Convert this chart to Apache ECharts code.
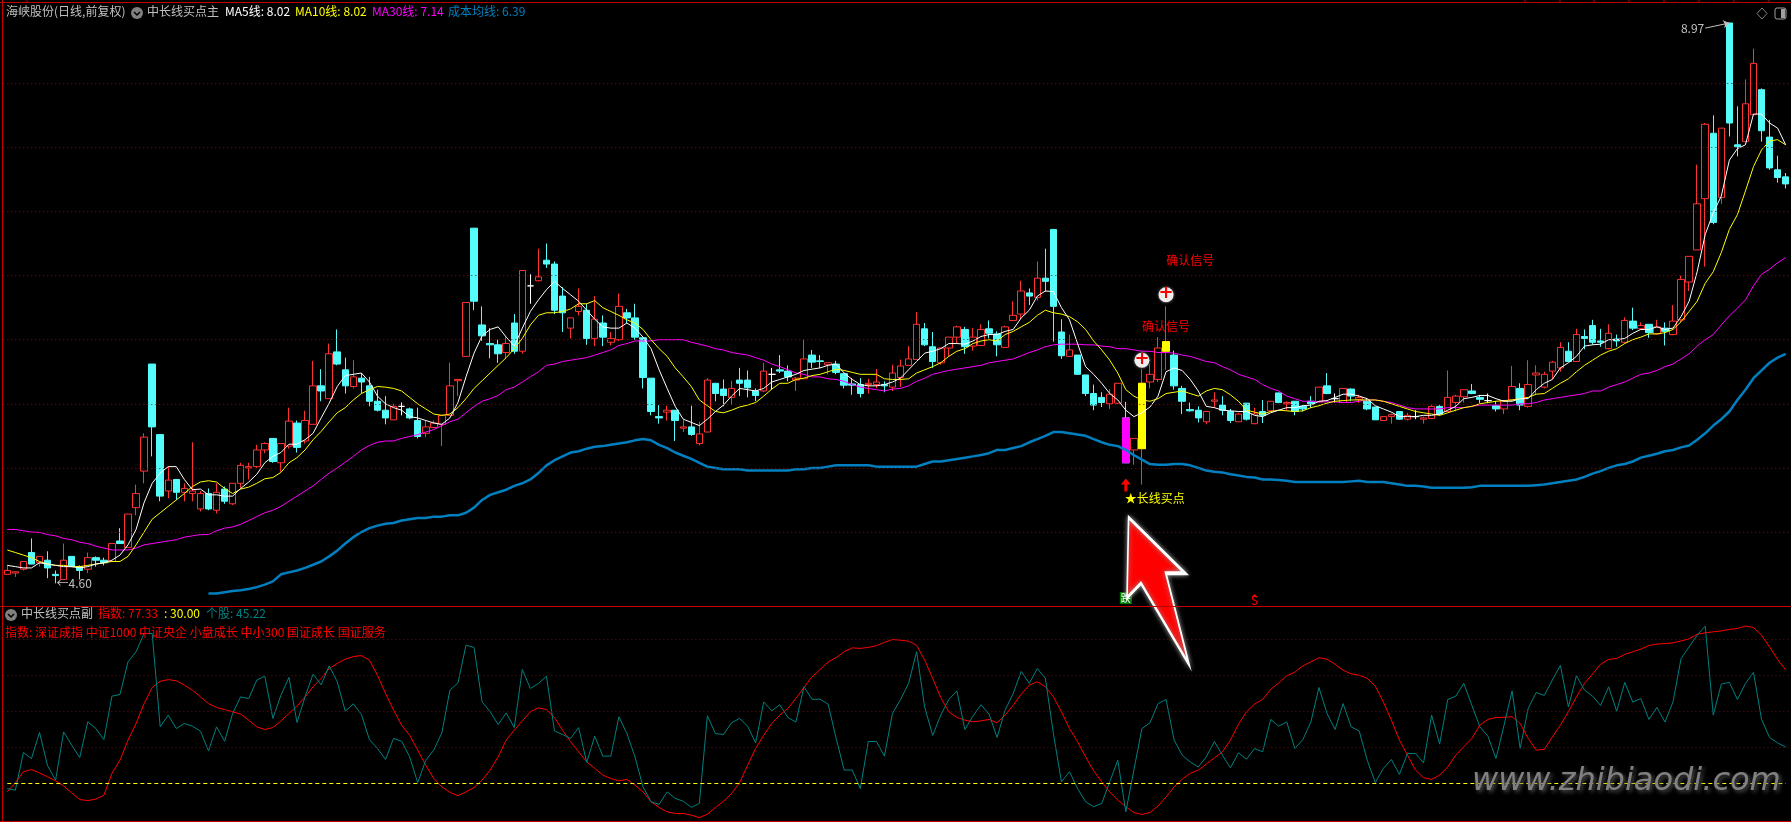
<!DOCTYPE html>
<html>
<head>
<meta charset="utf-8">
<style>
html, body { margin: 0; padding: 0; background: #000; }
#chart { width: 1791px; height: 822px; }
</style>
<script src="https://cdn.jsdelivr.net/npm/echarts@6/dist/echarts.min.js"></script>
</head>
<body>
<div id="chart"></div>
<script>
const opens = [
4.67,4.68,4.71,4.84,4.76,4.78,4.67,4.63,4.81,4.73,
4.71,4.80,4.78,4.77,4.93,4.88,5.19,5.475,6.31,5.76,
5.32,5.41,5.31,5.30,5.18,5.30,5.17,5.335,5.22,5.38,
5.50,5.51,5.64,5.73,5.54,5.67,5.85,5.71,5.84,6.14,
6.04,6.405,6.265,6.135,6.20,6.14,6.02,5.95,5.875,5.98,
5.96,5.87,5.77,5.815,5.84,5.91,6.18,6.37,7.37,6.615,
6.47,6.46,6.40,6.63,6.41,6.92,6.96,7.12,7.09,6.84,
6.59,6.72,6.73,6.51,6.63,6.48,6.50,6.71,6.67,6.515,
6.20,5.90,5.935,5.95,5.81,5.82,5.69,5.78,6.16,6.115,
6.05,6.185,6.185,6.10,6.10,6.23,6.265,6.255,6.185,6.195,
6.38,6.335,6.305,6.31,6.235,6.155,6.15,6.15,6.15,6.15,
6.13,6.205,6.30,6.345,6.585,6.445,6.32,6.435,6.52,6.58,
6.45,6.455,6.585,6.545,6.44,6.65,6.70,6.865,6.83,6.98,
7.36,6.56,6.37,6.38,6.225,6.08,6.05,6.00,6.005,5.89,
5.64,5.65,6.17,6.19,6.41,6.38,6.12,5.955,5.95,5.86,
6.02,5.99,5.94,5.86,6.005,5.845,5.94,5.945,6.085,6.00,
6.02,5.98,6.02,6.015,6.14,6.04,6.01,6.115,6.035,6.02,
5.975,5.87,5.90,5.94,5.88,5.90,5.88,5.885,5.98,5.94,
6.01,6.055,6.10,6.05,6.025,5.985,5.96,6.03,6.12,5.98,
6.225,6.13,6.255,6.28,6.41,6.33,6.525,6.61,6.49,6.43,
6.505,6.48,6.645,6.585,6.62,6.545,6.59,6.54,6.655,6.95,
7.20,7.60,8.11,7.61,8.97,8.02,8.045,8.255,8.45,8.08,7.825,7.77];
const closes = [
4.70,4.69,4.77,4.75,4.81,4.72,4.66,4.78,4.73,4.70,
4.80,4.78,4.76,4.91,4.91,5.14,5.30,5.74,5.82,5.28,
5.405,5.31,5.34,5.32,5.30,5.18,5.31,5.24,5.38,5.52,
5.51,5.64,5.69,5.55,5.69,5.865,5.66,5.87,6.14,6.10,
6.39,6.31,6.14,6.21,6.17,6.02,5.95,5.89,5.98,5.98,
5.89,5.745,5.82,5.85,5.91,6.14,6.19,6.79,6.80,6.53,
6.46,6.39,6.47,6.41,7.04,6.92,6.99,7.09,6.73,6.71,
6.67,6.76,6.51,6.66,6.52,6.51,6.76,6.67,6.52,6.205,
5.94,5.89,5.95,5.87,5.82,5.76,5.765,6.185,6.08,6.065,
6.12,6.16,6.125,6.065,6.255,6.23,6.255,6.21,6.20,6.35,
6.325,6.33,6.32,6.245,6.145,6.145,6.08,6.16,6.17,6.14,
6.24,6.295,6.35,6.62,6.46,6.33,6.435,6.52,6.60,6.445,
6.52,6.58,6.55,6.46,6.60,6.69,6.88,6.84,6.98,6.955,
6.76,6.375,6.42,6.23,6.08,5.99,6.01,6.075,6.16,5.54,
5.73,6.16,6.23,6.435,6.485,6.14,6.02,5.945,5.89,5.94,
6.03,5.95,5.87,5.92,5.88,5.92,5.91,6.02,6.01,6.01,
5.94,5.96,6.00,6.13,6.08,6.04,6.12,6.06,6.05,5.96,
5.875,5.90,5.915,5.88,5.91,5.90,5.89,5.98,5.92,6.05,
6.06,6.11,6.08,6.035,6.025,5.96,6.02,6.135,5.99,6.15,
6.24,6.23,6.325,6.44,6.33,6.54,6.51,6.48,6.48,6.55,
6.49,6.65,6.59,6.61,6.555,6.60,6.565,6.645,6.97,7.15,
7.56,8.18,7.415,8.15,8.19,8.005,8.34,8.655,8.13,7.84,7.765,7.715];
const lows = [
4.67,4.65,4.70,4.75,4.73,4.64,4.60,4.63,4.73,4.63,
4.68,4.73,4.74,4.77,4.91,4.88,5.13,5.38,5.59,5.24,
5.265,5.25,5.24,5.24,5.16,5.17,5.145,5.22,5.21,5.34,
5.41,5.50,5.615,5.54,5.47,5.65,5.62,5.69,5.84,6.02,
6.04,6.30,6.08,6.12,6.08,5.98,5.94,5.84,5.875,5.91,
5.88,5.73,5.74,5.81,5.67,5.91,6.06,6.37,6.73,6.49,
6.355,6.32,6.355,6.39,6.39,6.78,6.955,7.06,6.70,6.56,
6.51,6.69,6.46,6.45,6.45,6.455,6.49,6.63,6.50,6.12,
5.91,5.845,5.87,5.71,5.78,5.75,5.675,5.78,6.02,5.98,
5.99,6.06,6.05,6.02,6.09,6.11,6.24,6.175,6.10,6.195,
6.28,6.28,6.23,6.23,6.12,6.07,6.05,6.08,6.12,6.09,
6.10,6.13,6.30,6.345,6.45,6.28,6.305,6.365,6.47,6.39,
6.415,6.45,6.51,6.37,6.44,6.65,6.66,6.77,6.805,6.875,
6.485,6.35,6.365,6.225,6.06,5.95,5.975,5.96,6.00,5.54,
5.525,5.37,6.12,6.17,6.265,6.11,5.92,5.94,5.855,5.84,
5.97,5.91,5.85,5.86,5.87,5.84,5.85,5.94,6.005,5.95,
5.91,5.94,5.97,6.015,6.075,6.01,6.005,6.02,6.005,5.95,
5.875,5.87,5.845,5.875,5.87,5.88,5.845,5.88,5.91,5.94,
5.94,6.01,6.075,6.005,6.005,5.94,5.92,6.02,5.95,5.97,
6.07,6.12,6.19,6.25,6.33,6.33,6.425,6.46,6.445,6.425,
6.445,6.47,6.575,6.575,6.515,6.54,6.455,6.535,6.64,6.88,
7.20,7.07,7.40,7.56,8.085,7.93,8.045,8.255,8.045,7.825,7.725,7.68];
const highs = [
4.74,4.69,4.77,4.95,4.81,4.85,4.70,4.91,4.81,4.74,
4.84,4.81,4.80,4.91,5.03,5.14,5.37,5.77,6.31,5.76,
5.51,5.41,5.38,5.70,5.32,5.34,5.38,5.355,5.38,5.54,
5.54,5.68,5.70,5.73,5.69,5.97,5.87,5.945,6.335,6.27,
6.47,6.58,6.36,6.34,6.24,6.21,6.11,6.06,6.00,6.01,
5.97,5.97,5.87,5.87,5.91,6.32,6.19,6.79,7.37,6.76,
6.59,6.50,6.52,6.70,7.04,7.01,7.21,7.25,7.11,6.91,
6.67,6.90,6.78,6.84,6.69,6.56,6.86,6.74,6.78,6.515,
6.20,5.99,5.985,5.95,5.875,5.985,5.86,6.20,6.16,6.19,
6.18,6.28,6.26,6.12,6.32,6.28,6.38,6.30,6.21,6.50,
6.42,6.38,6.325,6.335,6.235,6.20,6.20,6.195,6.27,6.175,
6.305,6.345,6.45,6.715,6.63,6.56,6.435,6.52,6.61,6.60,
6.59,6.62,6.65,6.565,6.61,6.80,6.96,6.90,7.11,7.21,
7.36,6.66,6.54,6.38,6.225,6.15,6.09,6.115,6.16,6.015,
5.73,6.27,6.31,6.52,6.76,6.415,6.14,6.01,5.98,5.94,
6.09,6.06,5.96,5.93,6.005,5.97,6.03,6.02,6.085,6.02,
6.02,5.99,6.06,6.13,6.24,6.08,6.12,6.12,6.07,6.045,
5.975,5.90,5.925,5.94,5.93,5.95,5.90,5.99,5.99,6.26,
6.07,6.11,6.155,6.07,6.08,6.02,6.03,6.295,6.16,6.34,
6.30,6.25,6.335,6.48,6.48,6.585,6.58,6.655,6.585,6.62,
6.54,6.675,6.75,6.635,6.62,6.655,6.635,6.77,7.00,7.15,
7.865,8.19,8.25,8.15,8.97,8.32,8.53,8.77,8.46,8.215,7.935,7.80];

const ma5 = [
4.74,4.73,4.72,4.72,4.76,4.75,4.74,4.73,4.73,4.72,
4.73,4.75,4.76,4.78,4.82,4.90,5.02,5.23,5.38,5.46,
5.51,5.51,5.41,5.33,5.335,5.29,5.29,5.28,5.28,5.34,
5.39,5.45,5.54,5.59,5.62,5.685,5.685,5.72,5.77,5.89,
6.005,6.135,6.22,6.23,6.24,6.17,6.06,6.00,5.97,5.95,
5.90,5.89,5.87,5.85,5.84,5.89,6.01,6.21,6.395,6.53,
6.58,6.60,6.52,6.45,6.59,6.72,6.81,6.89,6.955,6.90,
6.85,6.80,6.73,6.66,6.60,6.59,6.59,6.63,6.59,6.52,
6.43,6.265,6.12,5.98,5.88,5.855,5.83,5.88,5.94,5.99,
6.06,6.12,6.11,6.10,6.12,6.17,6.19,6.21,6.23,6.26,
6.27,6.28,6.30,6.31,6.24,6.19,6.15,6.14,6.14,6.15,
6.17,6.20,6.265,6.33,6.395,6.41,6.43,6.47,6.47,6.465,
6.49,6.525,6.54,6.54,6.565,6.58,6.67,6.73,6.84,6.88,
6.875,6.75,6.655,6.47,6.29,6.23,6.16,6.08,6.03,5.95,
5.90,5.93,5.975,6.06,6.25,6.28,6.26,6.19,6.10,5.98,
5.97,5.95,5.945,5.94,5.94,5.91,5.90,5.93,5.95,5.97,
5.97,5.985,5.99,6.02,6.025,6.05,6.075,6.075,6.06,6.04,
5.985,5.96,5.935,5.90,5.90,5.90,5.91,5.91,5.92,5.95,
5.98,6.04,6.05,6.065,6.065,6.04,6.02,6.02,6.04,6.04,
6.11,6.16,6.19,6.28,6.32,6.37,6.45,6.46,6.465,6.50,
6.50,6.51,6.55,6.58,6.58,6.60,6.58,6.59,6.68,6.80,
7.03,7.32,7.49,7.62,7.90,7.99,8.02,8.26,8.26,8.19,8.15,8.02];
const ma10 = [
4.86,4.84,4.82,4.80,4.77,4.75,4.74,4.74,4.73,4.73,
4.74,4.75,4.76,4.77,4.77,4.81,4.90,5.00,5.10,5.15,
5.20,5.25,5.30,5.355,5.39,5.40,5.39,5.34,5.30,5.335,
5.35,5.38,5.415,5.425,5.465,5.54,5.58,5.64,5.72,5.785,
5.86,5.93,5.97,6.03,6.08,6.11,6.135,6.13,6.12,6.10,
6.05,6.00,5.96,5.92,5.91,5.92,5.97,6.04,6.12,6.18,
6.24,6.30,6.36,6.43,6.51,6.615,6.69,6.71,6.71,6.72,
6.74,6.78,6.78,6.805,6.75,6.72,6.69,6.655,6.63,6.58,
6.50,6.43,6.37,6.28,6.21,6.135,6.03,5.985,5.94,5.93,
5.95,5.975,5.99,6.01,6.06,6.115,6.16,6.16,6.19,6.20,
6.22,6.23,6.25,6.27,6.26,6.245,6.23,6.23,6.23,6.195,
6.19,6.19,6.195,6.24,6.265,6.29,6.32,6.37,6.41,6.43,
6.47,6.49,6.50,6.49,6.54,6.565,6.60,6.635,6.69,6.73,
6.71,6.70,6.68,6.64,6.58,6.49,6.42,6.34,6.24,6.11,
6.06,6.03,6.02,6.04,6.08,6.09,6.10,6.08,6.06,6.10,
6.12,6.11,6.07,6.02,5.95,5.935,5.92,5.94,5.95,5.945,
5.94,5.945,5.97,5.985,6.005,6.02,6.025,6.03,6.03,6.03,
6.03,6.02,6.00,5.98,5.96,5.94,5.93,5.92,5.91,5.93,
5.95,5.97,5.98,6.00,6.01,6.02,6.025,6.03,6.04,6.05,
6.075,6.08,6.12,6.16,6.195,6.25,6.30,6.34,6.38,6.41,
6.43,6.47,6.50,6.52,6.545,6.545,6.555,6.58,6.64,6.72,
6.80,6.94,7.03,7.18,7.36,7.475,7.66,7.85,7.98,8.05,8.06,8.02];
const ma30 = [
5.02,5.02,5.01,5.00,4.997,4.98,4.97,4.95,4.94,4.92,
4.91,4.89,4.875,4.86,4.86,4.86,4.875,4.90,4.91,4.92,
4.93,4.94,4.96,4.97,4.98,4.98,5.01,5.03,5.04,5.06,
5.09,5.12,5.15,5.17,5.20,5.24,5.28,5.32,5.36,5.41,
5.46,5.50,5.545,5.59,5.64,5.675,5.70,5.71,5.71,5.73,
5.745,5.76,5.78,5.80,5.83,5.86,5.88,5.93,5.98,6.02,
6.04,6.065,6.11,6.13,6.17,6.21,6.25,6.30,6.31,6.33,
6.34,6.35,6.36,6.38,6.40,6.42,6.455,6.47,6.49,6.49,
6.49,6.50,6.50,6.50,6.50,6.48,6.465,6.45,6.43,6.42,
6.40,6.39,6.38,6.36,6.34,6.31,6.29,6.265,6.24,6.23,
6.21,6.21,6.195,6.19,6.175,6.15,6.13,6.12,6.11,6.10,
6.115,6.12,6.14,6.175,6.20,6.23,6.245,6.26,6.27,6.28,
6.29,6.30,6.32,6.33,6.34,6.35,6.375,6.40,6.42,6.445,
6.46,6.465,6.465,6.465,6.46,6.46,6.45,6.445,6.43,6.43,
6.42,6.41,6.41,6.40,6.40,6.395,6.38,6.37,6.35,6.33,
6.32,6.29,6.265,6.23,6.21,6.19,6.15,6.12,6.10,6.06,
6.04,6.02,6.02,6.015,6.015,6.015,6.01,6.01,6.02,6.03,
6.03,6.02,6.01,5.99,5.97,5.96,5.96,5.96,5.96,5.97,
5.97,5.97,5.98,5.99,5.99,5.99,5.99,5.99,6.00,6.00,
6.01,6.03,6.04,6.05,6.06,6.07,6.08,6.10,6.10,6.13,
6.15,6.17,6.20,6.23,6.24,6.26,6.29,6.31,6.35,6.39,
6.45,6.50,6.54,6.615,6.685,6.745,6.81,6.92,7.01,7.05,7.10,7.14];
const costLine = [
null,null,null,null,null,null,null,null,null,null,
null,null,null,null,null,null,null,null,null,null,
null,null,null,null,null,4.52,4.52,4.53,4.54,4.545,
4.555,4.57,4.59,4.615,4.67,4.685,4.70,4.72,4.745,4.77,
4.81,4.855,4.91,4.96,5.00,5.03,5.05,5.065,5.07,5.09,
5.10,5.11,5.11,5.12,5.12,5.13,5.13,5.15,5.19,5.25,
5.29,5.31,5.33,5.36,5.38,5.41,5.46,5.52,5.56,5.59,
5.62,5.63,5.65,5.665,5.67,5.68,5.69,5.70,5.715,5.725,
5.715,5.68,5.655,5.62,5.595,5.57,5.54,5.51,5.50,5.49,
5.49,5.49,5.48,5.48,5.48,5.48,5.48,5.48,5.49,5.49,
5.50,5.50,5.51,5.52,5.52,5.52,5.52,5.52,5.51,5.51,
5.51,5.51,5.51,5.51,5.53,5.55,5.55,5.56,5.57,5.58,
5.59,5.60,5.615,5.64,5.64,5.655,5.67,5.70,5.725,5.75,
5.78,5.78,5.77,5.76,5.75,5.725,5.70,5.68,5.67,5.64,
5.60,5.565,5.53,5.525,5.525,5.53,5.53,5.52,5.50,5.48,
5.47,5.465,5.45,5.44,5.43,5.425,5.41,5.41,5.405,5.40,
5.39,5.39,5.39,5.39,5.39,5.39,5.39,5.395,5.40,5.39,
5.39,5.39,5.38,5.37,5.36,5.36,5.355,5.345,5.345,5.345,
5.345,5.345,5.35,5.36,5.36,5.36,5.36,5.36,5.36,5.36,
5.365,5.37,5.38,5.39,5.40,5.41,5.43,5.455,5.475,5.50,
5.52,5.53,5.55,5.58,5.595,5.61,5.63,5.64,5.66,5.675,
5.72,5.77,5.83,5.88,5.94,6.03,6.11,6.20,6.26,6.32,6.36,6.39];

// lower panel
const indexLine = [
26.5,30.3,34.9,35.8,34.4,32.8,31.1,29,26.1,23.3,
22.9,23.5,25.1,34.2,39.7,48.1,55,63.3,70,72.6,
73.3,72.8,71,68.9,66.1,63.3,61.7,60.8,59.9,58.9,
56.4,53.6,52.5,53.3,56,59.2,62.2,66.1,70.3,73.8,
77.9,80,81.8,82.9,83.3,81.4,75.1,67.5,60.6,54.3,
50.1,43.9,37.6,32.1,28.6,26.3,24.9,26.5,28.3,31.4,
35.6,41.1,48.1,52.2,56.1,59.9,61.5,60.8,57.5,52.2,
47.4,43.2,39,36.3,33.5,32.1,31.1,31.7,29.3,26.5,
22.4,20,18.2,17.5,17.5,16.8,15.8,17.2,20,22.6,
25.8,30.3,37.6,44.6,50.1,55,58.5,61.3,65.4,70,
74.4,77.5,80.6,82.5,84.9,86.5,86.3,86.7,87.4,88.8,
90,89.7,89.3,87.6,81.4,73.8,65.8,59.9,57.5,56.4,
55.7,56.1,56.7,55.3,58.5,62.6,67.2,71,72.4,70.3,
66.1,59.9,52.9,47.4,41.1,35.3,30.7,26.5,23.1,20.3,
17.9,17.1,17.9,20.6,24.4,28.6,31.8,34.2,35.6,38.1,
40.6,43.2,48.1,54.7,59.9,63.1,65,69.2,71.9,74.9,
76.4,79,80.7,82.4,81.8,79.7,77.2,75.7,75.1,73.8,
70.6,64,56.4,48.1,41.8,35.6,32.4,31.7,33.5,36.9,
41.8,45.3,48.8,54.3,56.7,57.5,57.6,57.8,55,48.8,
43.9,44.2,49.4,54.3,59.9,66.1,71.7,75.6,79.7,81.7,
82.1,83.8,84.9,86,87.5,88.1,88.3,88.6,89.4,90.3,
92.2,92.8,93.2,93.6,94.2,94.6,95.6,95,91.8,86.9,81.7,77.33];
const stockLine = [
27.9,27.2,42.9,40.4,51.3,37.4,31.4,51.5,46.0,40.8,
55.7,52.9,48.3,66.4,67.1,80.7,84.9,92.5,92.5,53.6,
58.5,52.9,55,53.9,51.8,43.6,53.6,47.6,59.2,66.1,
65.4,73.1,74.7,57.1,66.8,74.2,55.4,66.1,75.6,71.1,
79,72.4,60.1,63.2,58.8,48.3,44.6,40,48.8,47.6,
41.1,30.3,39.7,43.9,51.1,68.9,71.9,87.6,86.7,64,
59.9,54.6,59.4,53.3,77.5,69.6,71.7,74.7,51.9,50.4,
48.8,53.3,38.8,49.7,41.4,41.4,57.8,50.8,41.1,28.6,
22.4,21.3,26.5,23.8,22.6,20.1,21.7,58.2,50.8,50.4,
55.3,57.1,53.9,46.9,64,60.3,62.8,57.5,55.6,70.3,
65.1,65.1,63.1,48.8,35.6,35.6,27.9,47.5,47.5,41.4,
59.2,65,71.7,84.9,61.9,50,58.5,65,68.6,52.5,
58.1,62.8,58.9,49.2,60.6,67.5,76.7,71.7,77.9,73.8,
50.8,30.7,34.9,27.9,22.4,20.3,21.7,30.7,39.7,18.2,
35.6,52.9,55.3,63.3,65,48.1,41.8,39,36.9,41.1,
47.5,41.8,36.5,42.8,40.1,44.6,43.2,56.7,53.9,55.6,
44.6,48.3,55.7,70,59.2,52.5,63.3,53.6,51.9,39.7,
30.4,36.3,40,33.8,42.5,42.5,38.6,58.5,46.4,65,
66.4,71.7,62.6,53.6,49.7,40.4,54.3,68.6,44.6,61.3,
67.9,66.7,73.1,79.2,61.9,74.9,68.9,66.4,62.5,70.3,
60.1,72.1,63.9,65.4,56.7,61.7,55.6,64,82.1,86.9,
91.8,95.6,58.5,71.4,72.2,65,71.7,76.3,56.7,49.2,46.9,45.22];

const pricePoints = [8.5, 8, 7.5, 7, 6.5, 6, 5.5, 5];
const lowerPoints = [90, 75, 60, 45];
const buyLevel = 30;

// candles repainted in the signal colours: [index, open, close, low, high, colour]
const signalBars = [
    [139, 5.89, 5.54, 5.54, 5.89, '#ff00ff'],
    [141, 5.65, 6.16, 5.65, 6.16, '#ffff00'],
    [144, 6.41, 6.485, 6.41, 6.485, '#ffff00']
];

const categories = opens.map(function(v, i) { return String(i); });
const candleData = opens.map(function(v, i) { return [v, closes[i], lows[i], highs[i]]; });

const FONT = '"Noto Sans CJK SC", "Noto Sans", sans-serif';
const RED = '#ff3232';
const CYAN = '#54fcfc';
const FRAME = '#c00000';
const BIG_ARROW = 'path://M1.6 0L58.3 55.6L39 55.6L62.3 146.6L14 65.6L0 80Z';
const UP_ARROW = 'path://M5 0L10 6L6.5 6L6.5 13L3.5 13L3.5 6L0 6Z';

function textMark(coord, text, color, position, offset) {
    return {
        coord: coord, symbol: 'circle', symbolSize: 0,
        label: { show: true, formatter: text, color: color, fontSize: 12, fontFamily: FONT,
            position: position || 'inside', distance: 1, offset: offset || [0, 0] }
    };
}

function plusMark(coord) {
    return {
        coord: coord, symbol: 'circle', symbolSize: 15,
        itemStyle: { color: '#eeeeee', shadowBlur: 3, shadowColor: '#888888' },
        label: { show: true, formatter: '+', color: '#ff0000', fontSize: 18, fontWeight: 'bold',
            fontFamily: 'DejaVu Sans', position: 'inside', offset: [0, -1] }
    };
}

function headerText(x, y, text, color) {
    return { type: 'text', left: x, top: y - 8, z: 50, silent: true,
        style: { text: text, fill: color, font: '12px ' + FONT } };
}

function frameLine(x1, y1, x2, y2) {
    return { type: 'line', silent: true, z: 40,
        shape: { x1: x1, y1: y1, x2: x2, y2: y2 },
        style: { stroke: FRAME, lineWidth: 1 } };
}

function menuIcon(x, y) {
    return [
        { type: 'circle', silent: true, z: 50, shape: { cx: x, cy: y, r: 6 }, style: { fill: '#808080' } },
        { type: 'polyline', silent: true, z: 51,
            shape: { points: [[x - 3, y - 1], [x, y + 2], [x + 3, y - 1]] },
            style: { stroke: '#000', fill: 'none', lineWidth: 1.5 } }
    ];
}

const topTicks = [27, 1525, 1560, 1594, 1629, 1664, 1699, 1734, 1769];

const graphics = [
    frameLine(0, 2.5, 1791, 2.5),
    frameLine(0, 606.5, 1791, 606.5),
    frameLine(0, 821.5, 1791, 821.5),
    frameLine(2.5, 0, 2.5, 822),
    headerText(6, 13, '海峡股份(日线,前复权)', '#c0c0c0'),
    headerText(147, 13, '中长线买点主', '#c0c0c0'),
    headerText(225, 13, 'MA5线: 8.02', '#ffffff'),
    headerText(295, 13, 'MA10线: 8.02', '#ffff00'),
    headerText(372, 13, 'MA30线: 7.14', '#ff00ff'),
    headerText(448, 13, '成本均线: 6.39', '#0080c0'),
    headerText(21, 615, '中长线买点副', '#c0c0c0'),
    headerText(98, 615, '指数: 77.33', '#ff0000'),
    headerText(164, 615, ': 30.00', '#ffff00'),
    headerText(206, 615, '个股: 45.22', '#008080'),
    headerText(5, 634, '指数: 深证成指 中证1000 中证央企 小盘成长 中小300 国证成长 国证服务', '#ff0000'),
    { type: 'polygon', silent: true, z: 50,
        shape: { points: [[1762, 8], [1767, 13.5], [1762, 19], [1757, 13.5]] },
        style: { stroke: '#808080', fill: 'none', lineWidth: 1 } },
    { type: 'rect', silent: true, z: 50, shape: { x: 1775, y: 8, width: 11, height: 11, r: 2 },
        style: { stroke: '#a0a0a0', fill: 'none', lineWidth: 1 } },
    { type: 'rect', silent: true, z: 50, shape: { x: 1781, y: 9, width: 4, height: 9 },
        style: { fill: '#a0a0a0' } },
    { type: 'text', left: 1472, top: 766, z: 30, silent: true,
        style: { text: 'www.zhibiaodi.com', fill: '#808080',
            font: 'italic 32px "DejaVu Sans"', textShadowBlur: 4, textShadowColor: '#555555',
            textShadowOffsetX: 2, textShadowOffsetY: 2 } }
];
menuIcon(137, 13).concat(menuIcon(11, 615)).forEach(function(g) { graphics.push(g); });
topTicks.forEach(function(x) { graphics.push(frameLine(x, 0, x, 2)); });

const chart = echarts.init(document.getElementById('chart'));

const option = {
    animation: false,
    backgroundColor: '#000',
    graphic: graphics,
    grid: [
        { left: 3.3, top: 3, width: 1786.4, height: 603 },
        { left: 3.3, top: 607.2, width: 1786.4, height: 214 }
    ],
    xAxis: [
        { type: 'category', data: categories, gridIndex: 0, show: false },
        { type: 'category', data: categories, gridIndex: 1, show: false }
    ],
    yAxis: [
        { type: 'value', gridIndex: 0, min: 4.423, max: 9.126, show: false, splitLine: { show: false } },
        { type: 'value', gridIndex: 1, min: 14.29, max: 103.46, show: false, splitLine: { show: false } }
    ],
    series: [
        {
            name: 'K线',
            type: 'candlestick',
            data: candleData,
            barWidth: 7,
            itemStyle: {
                color: 'transparent', color0: CYAN,
                borderColor: RED, borderColor0: CYAN, borderColorDoji: '#ffffff', borderWidth: 1
            },
            markLine: {
                silent: true, symbol: 'none', label: { show: false },
                lineStyle: { color: '#a80000', type: [1, 3], width: 1 },
                data: pricePoints.map(function(v) { return { yAxis: v }; })
            }
        },
        {
            name: '信号',
            type: 'candlestick',
            barWidth: 7,
            encode: { x: 0, y: [1, 2, 3, 4] },
            data: signalBars.map(function(b) {
                return {
                    value: b.slice(0, 5),
                    itemStyle: { color: b[5], color0: b[5], borderColor: b[5], borderColor0: b[5] }
                };
            })
        },
        { name: 'MA30', type: 'line', data: ma30, symbol: 'none', lineStyle: { color: '#ff00ff', width: 1 } },
        { name: 'MA10', type: 'line', data: ma10, symbol: 'none', lineStyle: { color: '#ffff00', width: 1 } },
        { name: 'MA5', type: 'line', data: ma5, symbol: 'none', lineStyle: { color: '#ffffff', width: 1 } },
        { name: '成本均线', type: 'line', data: costLine, symbol: 'none', lineStyle: { color: '#0080c0', width: 2.5 } },
        {
            name: '标注',
            type: 'line',
            data: [],
            z: 20,
            markLine: {
                silent: true, symbol: ['none', 'arrow'], symbolSize: 6, label: { show: false },
                lineStyle: { color: '#c0c0c0', type: 'solid', width: 1 },
                data: [[{ coord: ['211', 8.93] }, { coord: ['214', 8.97] }]]
            },
            markPoint: {
                silent: true,
                data: [
                    textMark(['211', 8.93], '8.97', '#c0c0c0', 'left'),
                    textMark(['6', 4.60], '←4.60', '#c0c0c0', 'right'),
                    textMark(['147', 7.116], '确认信号', '#ff0000'),
                    textMark(['144', 6.60], '确认信号', '#ff0000'),
                    textMark(['139', 5.265], '★长线买点', '#ffff00', 'right', [-2, 0]),
                    plusMark(['144', 6.85]),
                    plusMark(['141', 6.34]),
                    { coord: ['139', 5.367], symbol: UP_ARROW, symbolSize: [10, 13], itemStyle: { color: '#ff0000' }, label: { show: false } },
                    { coord: ['139', 4.485], symbol: 'rect', symbolSize: [12, 12], itemStyle: { color: '#007a00' },
                        label: { show: true, formatter: '跌', color: '#ffffff', fontSize: 10, fontFamily: FONT, position: 'inside' } },
                    { coord: ['155', 4.505], symbol: 'triangle', symbolSize: [6, 3], itemStyle: { color: '#ff0000' }, label: { show: false } },
                    textMark(['155', 4.465], 'S', '#ff0000'),
                    { coord: ['143', 4.54], symbol: BIG_ARROW, symbolSize: [62, 147],
                        itemStyle: { color: '#ff0000', borderColor: '#ffffff', borderWidth: 2.5, shadowBlur: 5, shadowColor: '#999999' },
                        label: { show: false } }
                ]
            }
        },
        {
            name: '指数',
            type: 'line',
            xAxisIndex: 1,
            yAxisIndex: 1,
            data: indexLine,
            symbol: 'none',
            lineStyle: { color: '#ff0000', width: 1 },
            markLine: {
                silent: true, symbol: 'none', label: { show: false },
                lineStyle: { color: '#800000', type: [1, 3], width: 1 },
                data: lowerPoints.map(function(v) { return { yAxis: v }; })
            }
        },
        {
            name: '个股',
            type: 'line',
            xAxisIndex: 1,
            yAxisIndex: 1,
            data: stockLine,
            symbol: 'none',
            lineStyle: { color: '#008080', width: 1 },
            markLine: {
                silent: true, symbol: 'none', label: { show: false },
                lineStyle: { color: '#ffff00', type: [4, 3], width: 1 },
                data: [[{ coord: ['0', buyLevel] }, { coord: ['221', buyLevel] }]]
            }
        }
    ]
};

chart.setOption(option);
</script>
</body>
</html>
